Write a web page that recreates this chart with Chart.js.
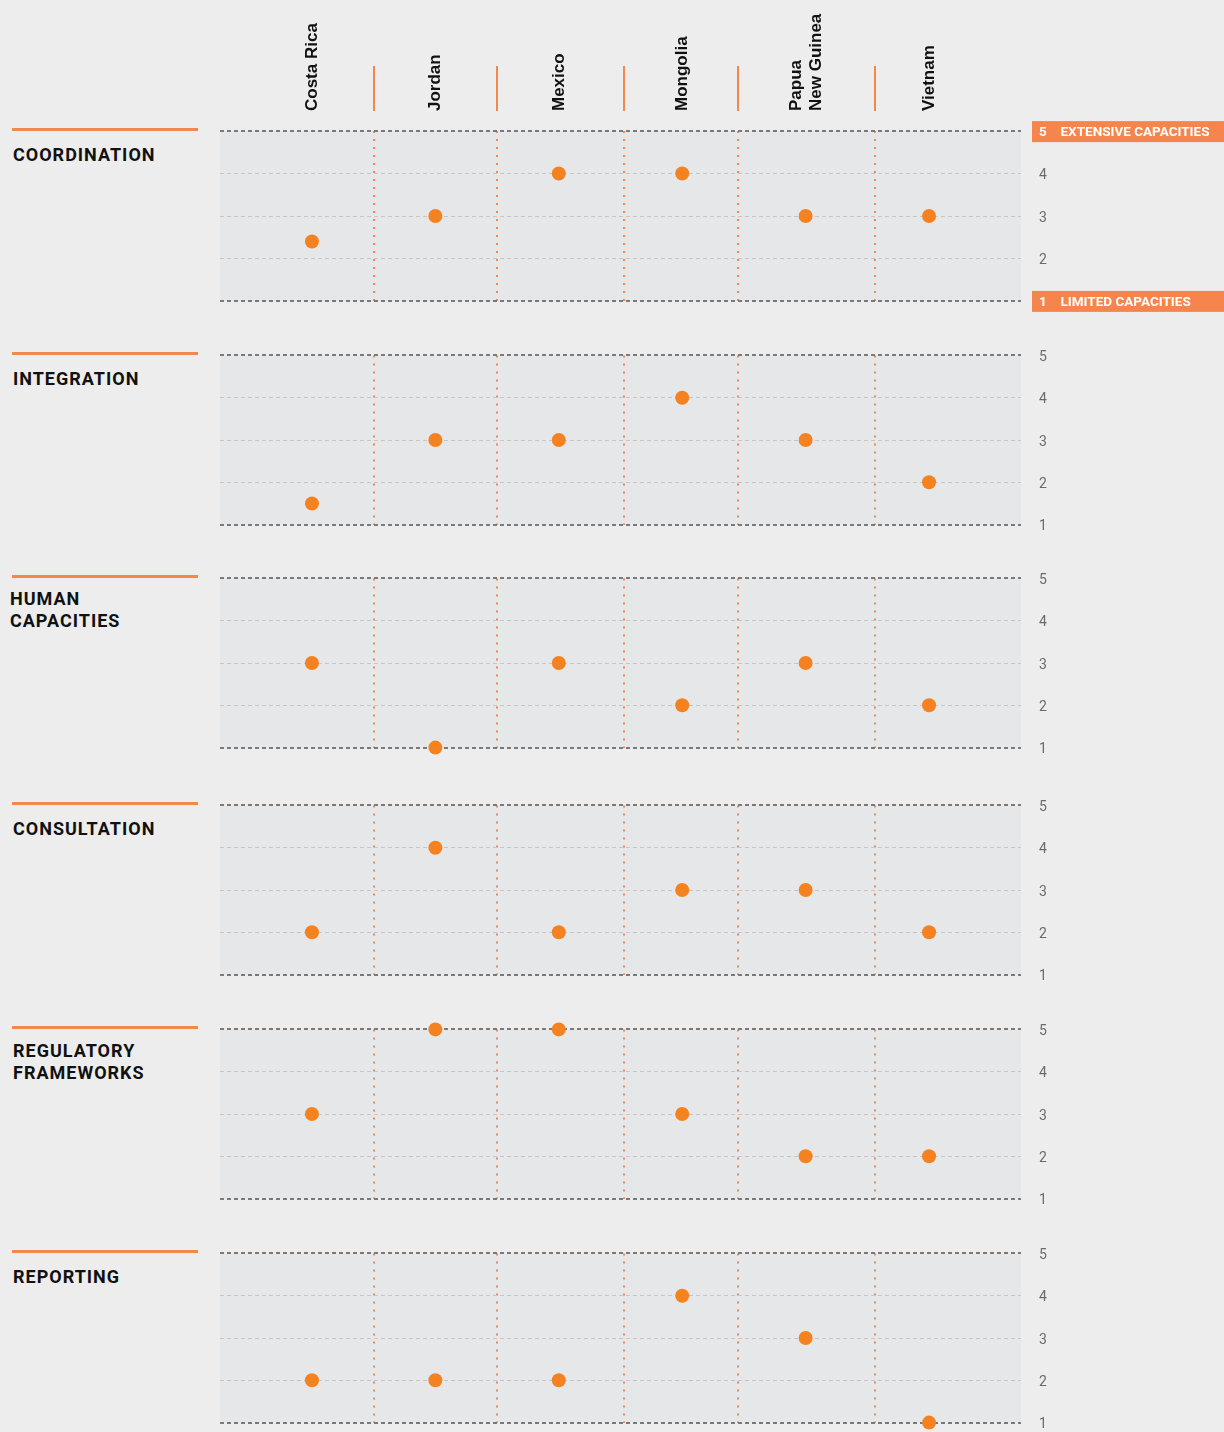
<!DOCTYPE html>
<html>
<head>
<meta charset="utf-8">
<script src="https://cdn.jsdelivr.net/npm/chart.js@4.4.1/dist/chart.umd.min.js"></script>
<style>
  html, body { margin: 0; padding: 0; background: #ededed; }
  #page { position: relative; width: 1224px; height: 1432px; overflow: hidden; }
  .panel { position: absolute; left: 0; width: 1224px; height: 222px; }
  .rule { position: absolute; left: 12px; width: 186px; height: 3px; background: #f4874b; }
  .cat { position: absolute; left: 13px; font-family: Roboto, sans-serif; font-weight: 700;
         font-size: 18px; line-height: 22px; letter-spacing: 1px; color: #111; white-space: pre; }
  .country { position: absolute; top: 111px; transform: rotate(-90deg); transform-origin: 0 0;
             font-family: "Liberation Sans", Arial, sans-serif; font-weight: 700; font-size: 17px;
             line-height: 20px; color: #111; white-space: pre; }
  .sep { position: absolute; top: 66px; width: 2px; height: 45px; background: #f4874b; }
</style>
</head>
<body>
<div id="page"></div>
<script>
// Countries (columns) and the six assessed areas (rows)
const countries = ['Costa Rica', 'Jordan', 'Mexico', 'Mongolia', 'Papua\nNew Guinea', 'Vietnam'];
const categories = ['COORDINATION', 'INTEGRATION', 'HUMAN\nCAPACITIES', 'CONSULTATION', 'REGULATORY\nFRAMEWORKS', 'REPORTING'];

// Scores, 1 (limited) to 5 (extensive), one value per country
const coordination = [2.4, 3, 4, 4, 3, 3];
const integration = [1.5, 3, 3, 4, 3, 2];
const humanCapacities = [3, 1, 3, 2, 3, 2];
const consultation = [2, 4, 2, 3, 3, 2];
const regulatoryFrameworks = [3, 5, 5, 3, 2, 2];
const reporting = [2, 2, 2, 4, 3, 1];

const scoreTicks = [1, 2, 3, 4, 5];
const scaleCaptions = { 5: 'EXTENSIVE CAPACITIES', 1: 'LIMITED CAPACITIES' };
// column dividers, in country-index units
const separators = [0.5, 1.5, 2.53, 3.455, 4.565];

const series = [coordination, integration, humanCapacities, consultation, regulatoryFrameworks, reporting];
const panelTops = [130, 354, 577, 804, 1028, 1252];

const ORANGE = '#f58220';
const page = document.getElementById('page');
const charts = [];

// plot background + orange caption boxes, drawn under the scales
const backdropPlugin = {
  id: 'backdrop',
  beforeDraw(chart, args, opts) {
    const { ctx, chartArea: a } = chart;
    ctx.save();
    ctx.fillStyle = '#e6e7e8';
    ctx.fillRect(a.left, a.top, a.right - a.left, a.bottom - a.top);
    if (opts.captions) {
      ctx.fillStyle = '#f5854d';
      Object.keys(scaleCaptions).forEach(v => {
        const y = chart.scales.y.getPixelForValue(Number(v));
        ctx.fillRect(a.right + 11, y - 10, chart.width - a.right - 11, 21);
      });
    }
    ctx.restore();
  }
};

const isEdge = ctx => !!ctx.tick && (ctx.tick.value === 1 || ctx.tick.value === 5);

function makePanel(idx) {
  const top = panelTops[idx];
  const withCaptions = idx === 0;

  const rule = document.createElement('div');
  rule.className = 'rule';
  rule.style.top = (top - 2) + 'px';
  page.appendChild(rule);

  const label = document.createElement('div');
  label.className = 'cat';
  label.textContent = categories[idx];
  label.style.top = (top + (categories[idx].includes('\n') ? 12 : 14)) + 'px';
  if (idx === 2) { label.style.left = '10px'; label.style.top = (top + 11) + 'px'; }
  page.appendChild(label);

  // the y tick padding reserves 25px above and 26px below the plot area
  const wrap = document.createElement('div');
  wrap.className = 'panel';
  wrap.style.top = (top - 25) + 'px';
  const canvas = document.createElement('canvas');
  wrap.appendChild(canvas);
  page.appendChild(wrap);

  const isCaption = ctx => withCaptions && !!ctx.tick && scaleCaptions[ctx.tick.value] !== undefined;

  return new Chart(canvas.getContext('2d'), {
    type: 'scatter',
    data: {
      datasets: [{
        data: series[idx].map((v, i) => ({ x: i, y: v })),
        backgroundColor: ORANGE,
        borderWidth: 0,
        pointRadius: 7,
        pointHoverRadius: 7,
        clip: false
      }]
    },
    options: {
      responsive: true,
      maintainAspectRatio: false,
      animation: false,
      events: [],
      layout: { padding: { left: 220, top: 0, bottom: 0, right: 0 } },
      plugins: {
        legend: { display: false },
        tooltip: { enabled: false },
        backdrop: { captions: withCaptions }
      },
      scales: {
        x: {
          type: 'linear',
          min: -0.745,
          max: 5.745,
          afterBuildTicks: scale => { scale.ticks = separators.map(v => ({ value: v })); },
          ticks: { display: false },
          grid: { color: '#f4874b', lineWidth: 2, drawTicks: false },
          border: { display: false, dash: [2, 6] }
        },
        y: {
          position: 'right',
          min: 1,
          max: 5,
          afterBuildTicks: scale => { scale.ticks = scoreTicks.map(v => ({ value: v })); },
          afterFit: scale => { scale.width = 203; },
          ticks: {
            padding: 18,
            labelOffset: 2,
            color: ctx => isCaption(ctx) ? '#ffffff' : '#6b6b6b',
            font: ctx => isCaption(ctx)
              ? { family: 'Roboto', size: 13.5, weight: 'bold' }
              : { family: 'Roboto', size: 14 },
            callback: v => (withCaptions && scaleCaptions[v] !== undefined) ? v + '\u2003' + scaleCaptions[v] : String(v)
          },
          grid: {
            drawTicks: false,
            color: ctx => isEdge(ctx) ? '#7a7a7a' : '#c6c6c6',
            lineWidth: ctx => isEdge(ctx) ? 2 : 1
          },
          border: { display: false, dash: [4, 3] }
        }
      }
    },
    plugins: [backdropPlugin]
  });
}

series.forEach((s, i) => charts.push(makePanel(i)));

// column header: country names and orange dividers, placed with the chart's own x scale
const xs = charts[0].scales.x;
countries.forEach((name, i) => {
  const el = document.createElement('div');
  el.className = 'country';
  el.textContent = name;
  const lines = name.split('\n').length;
  el.style.left = (xs.getPixelForValue(i) - lines * 10) + 'px';
  page.appendChild(el);
});
separators.forEach(v => {
  const el = document.createElement('div');
  el.className = 'sep';
  el.style.left = (xs.getPixelForValue(v) - 1) + 'px';
  page.appendChild(el);
});
</script>
</body>
</html>
